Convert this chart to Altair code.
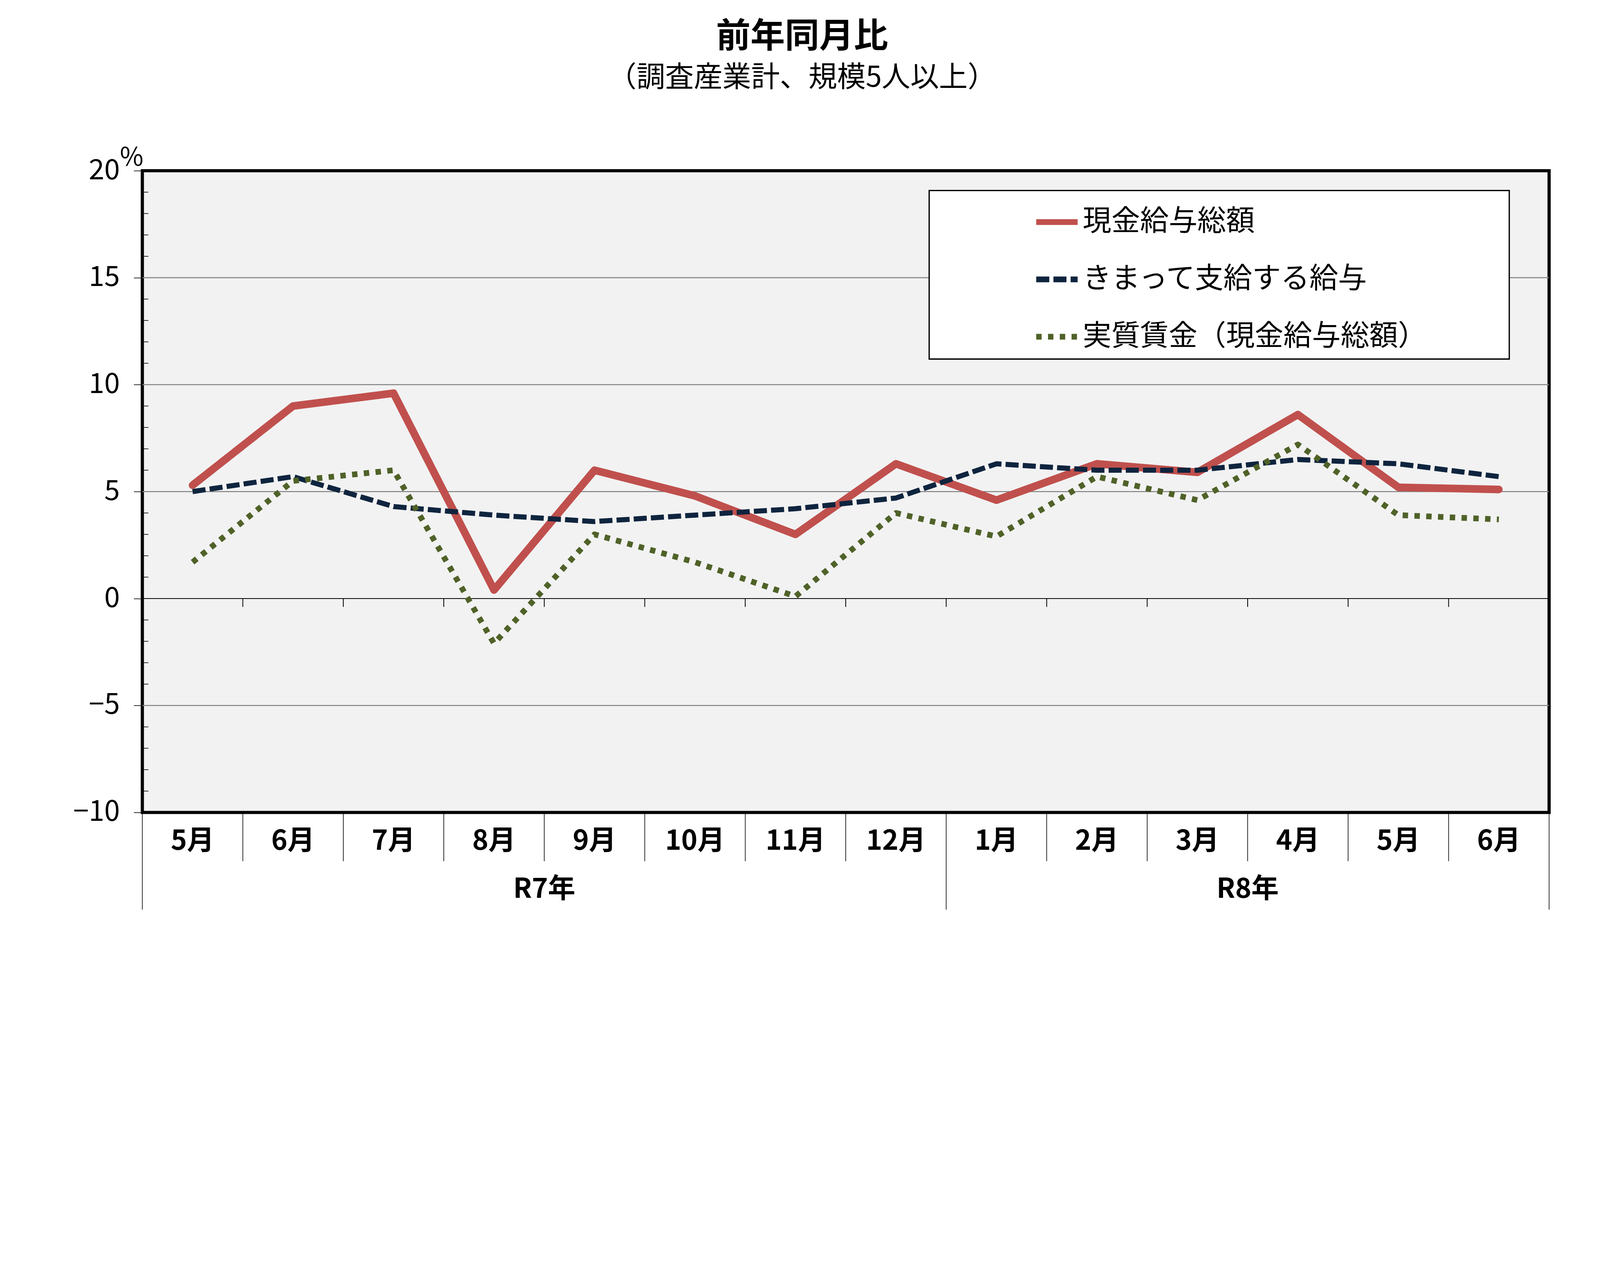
import altair as alt
import pandas as pd

FONT = "Noto Sans CJK JP"

# ---- data ----
months = ["5月", "6月", "7月", "8月", "9月", "10月", "11月", "12月",
          "1月", "2月", "3月", "4月", "5月", "6月"]
years = ["R7年"] * 8 + ["R8年"] * 6
series_names = ["現金給与総額", "きまって支給する給与", "実質賃金（現金給与総額）"]
total_cash = [5.3, 9.0, 9.6, 0.4, 6.0, 4.8, 3.0, 6.3, 4.6, 6.3, 5.9, 8.6, 5.2, 5.1]
scheduled = [5.0, 5.7, 4.3, 3.9, 3.6, 3.9, 4.2, 4.7, 6.3, 6.0, 6.0, 6.5, 6.3, 5.7]
real_wage = [1.7, 5.5, 6.0, -2.1, 3.0, 1.7, 0.1, 4.0, 2.9, 5.7, 4.6, 7.2, 3.9, 3.7]
y_ticks = [-10, -5, 0, 5, 10, 15, 20]
grid_values = [-5, 5, 10, 15]
minor_ticks = [-9, -8, -7, -6, -4, -3, -2, -1, 1, 2, 3, 4, 6, 7, 8, 9,
               11, 12, 13, 14, 16, 17, 18, 19]

colors = ["#C0504D", "#0F243E", "#4F6228"]
dashes = [[1, 0], [41, 13], [17, 20]]
widths = [24, 16, 18]
caps = ["round", "butt", "butt"]

W, H = 4416, 2014

n = len(months)
rows = []
for name, vals in zip(series_names, [total_cash, scheduled, real_wage]):
    for i, v in enumerate(vals):
        rows.append({"pos": i + 0.5, "month": months[i], "series": name, "value": v})
df = pd.DataFrame(rows)

month_df = pd.DataFrame({"pos": [i + 0.5 for i in range(n)], "month": months})
group_bounds = [0] + [i for i in range(1, n) if years[i] != years[i - 1]] + [n]
month_bounds = [i for i in range(1, n) if i not in group_bounds]
year_df = pd.DataFrame({
    "pos": [(group_bounds[k] + group_bounds[k + 1]) / 2 for k in range(len(group_bounds) - 1)],
    "year": [years[group_bounds[k]] for k in range(len(group_bounds) - 1)],
})

xscale = alt.Scale(domain=[0, n], nice=False, zero=False)
yscale = alt.Scale(domain=[y_ticks[0], y_ticks[-1]], nice=False, zero=False)

yaxis = alt.Axis(values=y_ticks, grid=False, domain=False, ticks=True, tickSize=27,
                 tickColor="black", tickWidth=2, labelFontSize=88, labelFont=FONT,
                 labelColor="black", labelPadding=44, labelFlush=False,
                 title="%", titleAngle=0, titleX=-34, titleY=-40, titleFontSize=80,
                 titleFont=FONT, titleFontWeight="normal", titleBaseline="middle",
                 titleAlign="center", titleColor="black")


def X(field):
    return alt.X(field, type="quantitative", scale=xscale, axis=None)


def Y(field):
    return alt.Y(field, type="quantitative", scale=yscale, axis=yaxis)


legend = alt.Legend(
    title=" ", titleOrient="right", titlePadding=234, titleFontSize=10,
    orient="none", legendX=2470, legendY=62, direction="vertical",
    fillColor="white", strokeColor="black", padding=25,
    cornerRadius=0, symbolType="stroke", symbolSize=16900, symbolOffset=302,
    symbolStrokeWidth=18,
    labelOffset=7, labelFontSize=90, labelFont=FONT, labelColor="black",
    labelLimit=3000, rowPadding=61,
)

color_enc = alt.Color("series:N", scale=alt.Scale(domain=series_names, range=colors), legend=legend)
dash_enc = alt.StrokeDash("series:N", scale=alt.Scale(domain=series_names, range=dashes), legend=legend)

grid = alt.Chart(pd.DataFrame({"value": grid_values})).mark_rule(
    color="#808080", strokeWidth=3).encode(y=Y("value"))

zero_line = alt.Chart(pd.DataFrame({"value": [0]})).mark_rule(
    color="black", strokeWidth=2.5).encode(y=Y("value"))

zero_ticks = alt.Chart(pd.DataFrame({"b": list(range(1, n))})).mark_rule(
    color="black", strokeWidth=2.5).encode(
    x=X("b"), y=alt.Y(datum=0, scale=yscale, axis=yaxis), y2=alt.Y2(datum=-0.39))

minor = alt.Chart(pd.DataFrame({"value": minor_ticks})).mark_rule(
    color="black", strokeWidth=2).encode(y=Y("value"), x=alt.value(0), x2=alt.value(19))

month_sep = alt.Chart(pd.DataFrame({"b": month_bounds})).mark_rule(
    color="black", strokeWidth=2).encode(x=X("b"), y=alt.value(H), y2=alt.value(H + 153))

group_sep = alt.Chart(pd.DataFrame({"b": group_bounds})).mark_rule(
    color="black", strokeWidth=2).encode(x=X("b"), y=alt.value(H), y2=alt.value(H + 305))

month_text = alt.Chart(month_df).mark_text(
    font=FONT, fontSize=86, fontWeight="bold", color="black", baseline="middle",
    align="center").encode(x=X("pos"), y=alt.value(H + 91), text="month:N")

year_text = alt.Chart(year_df).mark_text(
    font=FONT, fontSize=86, fontWeight="bold", color="black", baseline="middle",
    align="center").encode(x=X("pos"), y=alt.value(H + 242), text="year:N")

line_layers = []
for name, w, cap in zip(series_names, widths, caps):
    line_layers.append(
        alt.Chart(df[df["series"] == name]).mark_line(
            strokeCap=cap, strokeJoin="round", strokeWidth=w).encode(
            x=X("pos"), y=Y("value"), color=color_enc, strokeDash=dash_enc,
            order="pos:Q")
    )

chart = alt.layer(grid, zero_line, zero_ticks, minor, month_sep, group_sep,
                  month_text, year_text, *line_layers).properties(
    width=W, height=H,
    padding={"left": 437, "top": 207, "right": 150, "bottom": 600},
    autosize=alt.AutoSizeParams(type="none"),
    title=alt.TitleParams(
        text="前年同月比", subtitle="（調査産業計、規模5人以上）",
        font=FONT, subtitleFont=FONT, fontSize=108, subtitleFontSize=90,
        fontWeight="bold", subtitleFontWeight="normal", color="black",
        subtitleColor="black", anchor="middle", dx=-137, offset=165,
        subtitlePadding=30),
).configure_view(fill="#F2F2F2", stroke="black", strokeWidth=10
).configure_legend(strokeWidth=4)

chart.save("out.html", embed_options={"renderer": "svg", "actions": False})
